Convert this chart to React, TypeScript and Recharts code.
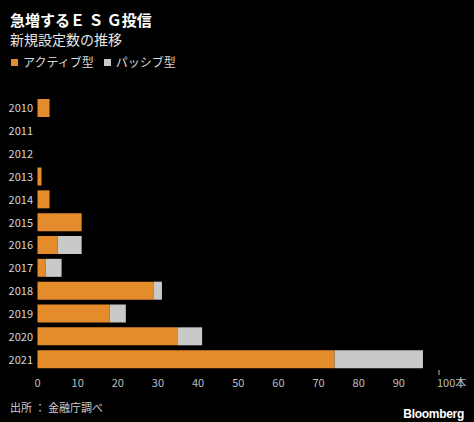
import { BarChart, Bar, XAxis, YAxis } from 'recharts';

const years = ['2010', '2011', '2012', '2013', '2014', '2015', '2016', '2017', '2018', '2019', '2020', '2021'];
const activeFunds = [3, 0, 0, 1, 3, 11, 5, 2, 29, 18, 35, 74];
const passiveFunds = [0, 0, 0, 0, 0, 0, 6, 4, 2, 4, 6, 22];
const xTicks = [0, 10, 20, 30, 40, 50, 60, 70, 80, 90, 100];

const ORANGE = '#E48B2B';
const GRAY = '#C9C9C9';
const FONT = '"Noto Sans CJK JP", "Noto Sans", sans-serif';

const data = years.map((year, i) => ({ year, active: activeFunds[i], passive: passiveFunds[i] }));

const XTick = (props: any) => {
  const { x, y, payload } = props;
  const last = payload.value === 100;
  return (
    <g>
      {last && <line x1={x} x2={x} y1={y - 9} y2={y - 4} stroke="#bbb" strokeWidth={1} />}
      <text x={last ? x - 2 : x} y={y + 8} textAnchor={last ? 'start' : 'middle'} fill="#bdbdbd" fontSize={11} fontFamily={FONT}>
        {last ? '100本' : payload.value}
      </text>
    </g>
  );
};

const YTick = (props: any) => {
  const { y, payload } = props;
  return (
    <text x={33} y={y + 4} textAnchor="end" fill="#d6d6d6" fontSize={11} fontFamily={FONT}>
      {payload.value}
    </text>
  );
};

export default function App() {
  return (
    <div style={{ position: 'fixed', left: 0, top: 0, width: 474, height: 422, background: '#000', fontFamily: FONT }}>
      <div style={{ position: 'absolute', left: 10, top: 10, color: '#fff', fontSize: 15, fontWeight: 700, lineHeight: '20px' }}>
        急増するＥ Ｓ Ｇ投信
      </div>
      <div style={{ position: 'absolute', left: 10, top: 29, color: '#e6e6e6', fontSize: 14, lineHeight: '20px' }}>
        新規設定数の推移
      </div>
      <div style={{ position: 'absolute', left: 11, top: 54, display: 'flex', alignItems: 'center', color: '#d9d9d9', fontSize: 12, lineHeight: '16px' }}>
        <span style={{ width: 7, height: 7, background: ORANGE, marginRight: 5 }} />
        <span style={{ marginRight: 10 }}>アクティブ型</span>
        <span style={{ width: 7, height: 7, background: GRAY, marginRight: 5 }} />
        <span>パッシブ型</span>
      </div>

      <div style={{ position: 'absolute', left: 0, top: 0 }}>
        <BarChart width={474} height={422} data={data} layout="vertical" margin={{ top: 97, right: 35, bottom: 31, left: 0 }} barCategoryGap={2}>
          <XAxis type="number" domain={[0, 100]} ticks={xTicks} axisLine={false} tickLine={false} tick={<XTick />} height={20} interval={0} />
          <YAxis type="category" dataKey="year" width={37.5} axisLine={false} tickLine={false} tick={<YTick />} interval={0} />
          <Bar dataKey="active" stackId="a" fill={ORANGE} barSize={18} isAnimationActive={false} />
          <Bar dataKey="passive" stackId="a" fill={GRAY} barSize={18} isAnimationActive={false} />
        </BarChart>
      </div>

      <div style={{ position: 'absolute', left: 10, top: 399, color: '#cfcfcf', fontSize: 11, lineHeight: '16px' }}>
        出所 ： 金融庁調べ
      </div>
      <div style={{ position: 'absolute', right: 10, top: 406, color: '#fff', fontSize: 12, fontWeight: 700, fontFamily: 'Arial, "Liberation Sans", sans-serif', letterSpacing: -0.3, lineHeight: '16px' }}>
        Bloomberg
      </div>
    </div>
  );
}
